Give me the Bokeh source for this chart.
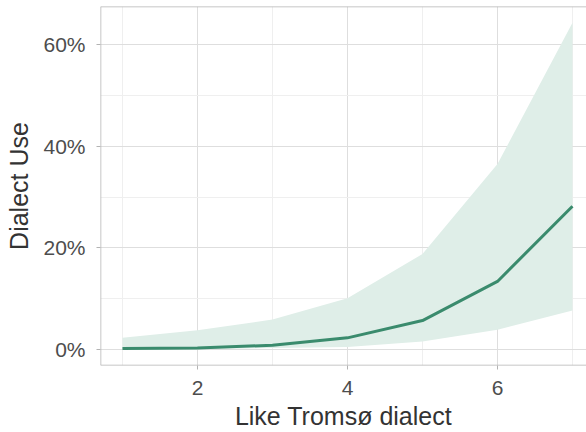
from bokeh.plotting import figure
from bokeh.models import FixedTicker, NumeralTickFormatter, Range1d, ColumnDataSource, Span
from bokeh.embed import file_html
from bokeh.resources import INLINE

like = [1, 2, 3, 4, 5, 6, 7]
use_fit = [0.002, 0.003, 0.0085, 0.023, 0.057, 0.134, 0.282]
use_upper = [0.023, 0.038, 0.059, 0.101, 0.188, 0.365, 0.643]
use_lower = [0.0, 0.0005, 0.003, 0.005, 0.016, 0.039, 0.077]

x_ticks = [2, 4, 6]
x_minor = [1, 3, 5, 7]
y_ticks = [0.0, 0.2, 0.4, 0.6]
y_minor = [0.1, 0.3, 0.5]

X0, X1 = 0.707, 7.187
Y0, Y1 = -0.0314, 0.675

src = ColumnDataSource(dict(x=like, fit=use_fit, lo=use_lower, hi=use_upper))

p = figure(width=586, height=432, output_backend="svg", toolbar_location=None,
           x_range=Range1d(X0, X1), y_range=Range1d(Y0, Y1),
           min_border_left=100, min_border_right=0, min_border_top=6, min_border_bottom=65)

p.varea(x="x", y1="lo", y2="hi", source=src, fill_color="#dfeee8", fill_alpha=1.0)
p.line(x="x", y="fit", source=src, line_color="#3a8b6d", line_width=3)

p.xaxis.ticker = FixedTicker(ticks=x_ticks, minor_ticks=x_minor)
p.yaxis.ticker = FixedTicker(ticks=y_ticks, minor_ticks=y_minor)
p.yaxis.formatter = NumeralTickFormatter(format="0%")

p.xaxis.axis_label = "Like Tromsø dialect"
p.yaxis.axis_label = "Dialect Use"

for ax in (p.xaxis, p.yaxis):
    ax.axis_line_color = None
    ax.major_tick_line_color = "#b3b3b3"
    ax.major_tick_in = 0
    ax.major_tick_out = 4
    ax.minor_tick_line_color = None
    ax.major_label_text_font = "Liberation Sans"
    ax.major_label_text_font_size = "21px"
    ax.major_label_text_color = "#4d4d4d"
    ax.axis_label_text_font = "Liberation Sans"
    ax.axis_label_text_font_size = "25px"
    ax.axis_label_text_font_style = "normal"
    ax.axis_label_text_color = "#333333"

p.xaxis.major_label_standoff = 11
p.xaxis.axis_label_standoff = 4
p.yaxis.major_label_standoff = 11
p.yaxis.axis_label_standoff = 7

p.grid.grid_line_color = "#dedede"
p.grid.grid_line_width = 1
p.grid.minor_grid_line_color = "#efefef"
p.grid.minor_grid_line_width = 1

p.outline_line_color = None
for dim, loc in (("height", X0), ("width", Y0), ("width", Y1)):
    p.add_layout(Span(location=loc, dimension=dim, line_color="#b3b3b3", line_width=1.5))

p.background_fill_color = "white"
p.border_fill_color = "white"

open("out.html", "w").write(file_html(p, INLINE))
